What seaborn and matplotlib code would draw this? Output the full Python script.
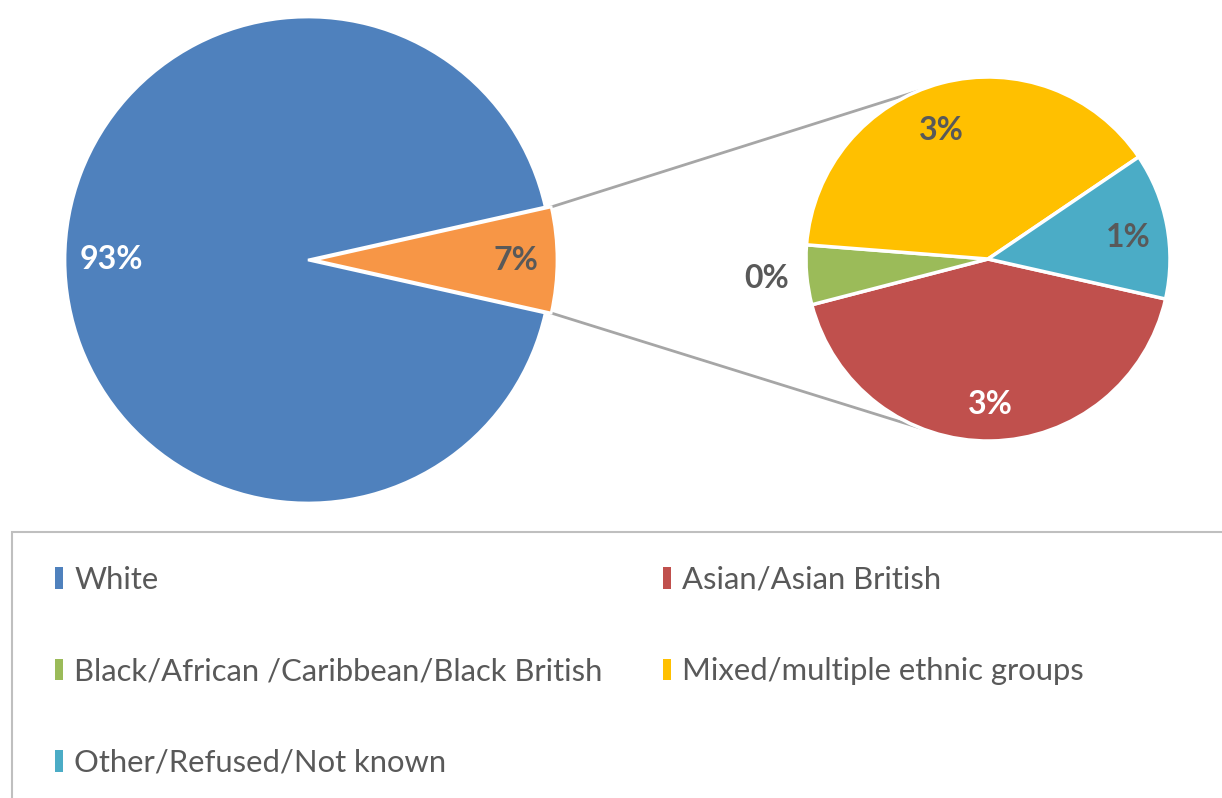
import numpy as np
import matplotlib
matplotlib.use("Agg")
import matplotlib.pyplot as plt
import seaborn as sns
from matplotlib.patches import Patch, Rectangle

# ---- data ----
categories = ["White", "Asian/Asian British", "Black/African /Caribbean/Black British",
              "Mixed/multiple ethnic groups", "Other/Refused/Not known"]
white_value = 93.0
sub_categories = ["Asian/Asian British", "Black/African /Caribbean/Black British",
                  "Mixed/multiple ethnic groups", "Other/Refused/Not known"]
sub_values = [2.97, 0.37, 2.75, 0.91]

colors = {
    "White": "#4F81BD",
    "Other7": "#F79646",
    "Asian/Asian British": "#C0504D",
    "Black/African /Caribbean/Black British": "#9BBB59",
    "Mixed/multiple ethnic groups": "#FFC000",
    "Other/Refused/Not known": "#4BACC6",
}

sns.set_theme(style="white")
plt.rcParams['font.family'] = ['Lato', 'DejaVu Sans']

W, H = 1222, 798
fig = plt.figure(figsize=(W / 100, H / 100), dpi=100)
ax = fig.add_axes([0, 0, 1, 1])

main_vals = [white_value, sum(sub_values)]
main_center = (308, H - 260)
main_r = 243
half = sum(sub_values) / 100 * 180
wedges1, _ = ax.pie(main_vals, colors=[colors["White"], colors["Other7"]],
                    startangle=-half, counterclock=False, center=main_center,
                    radius=main_r, explode=[0, 6],
                    wedgeprops=dict(edgecolor="white", linewidth=2))

sub_center = (988, H - 259)
sub_r = 182
wedges2, _ = ax.pie(sub_values, colors=[colors[c] for c in sub_categories],
                    startangle=-12.7, counterclock=False, center=sub_center,
                    radius=sub_r,
                    wedgeprops=dict(edgecolor="white", linewidth=2.5))

dark = "#595959"

def label_wedge(w, text, dist, color, r, dang=0.0):
    th = np.deg2rad((w.theta1 + w.theta2) / 2 + dang)
    cx, cy = w.center
    ax.text(cx + dist * r * np.cos(th), cy + dist * r * np.sin(th), text,
            ha="center", va="center", fontsize=23, fontweight="bold", color=color)

label_wedge(wedges1[0], f"{white_value:.0f}%", 0.81, "white", main_r)
label_wedge(wedges1[1], f"{sum(sub_values):.0f}%", 0.83, dark, main_r)

sub_label_cfg = [(0.80, "white", 0), (1.22, dark, 0), (0.75, dark, 5), (0.78, dark, -2)]
for w, v, (d, c, da) in zip(wedges2, sub_values, sub_label_cfg):
    label_wedge(w, f"{v:.0f}%", d, c, sub_r, da)

# connector lines
w_or = wedges1[1]
for a_main, a_sub in [(w_or.theta2, 112.7), (w_or.theta1, 248.4)]:
    cx, cy = w_or.center
    x0 = cx + main_r * np.cos(np.deg2rad(a_main))
    y0 = cy + main_r * np.sin(np.deg2rad(a_main))
    x1 = sub_center[0] + sub_r * np.cos(np.deg2rad(a_sub))
    y1 = sub_center[1] + sub_r * np.sin(np.deg2rad(a_sub))
    ax.plot([x0, x1], [y0, y1], color="#A6A6A6", lw=2, zorder=0)

ax.set_xlim(0, W)
ax.set_ylim(0, H)
ax.set_aspect("equal")
ax.axis("off")

# legend frame
ax.add_patch(Rectangle((12, -20), W + 20, (H - 532) + 20, fill=False,
                       edgecolor="#BFBFBF", lw=1.5, clip_on=False))

order = ["White", "Black/African /Caribbean/Black British", "Other/Refused/Not known",
         "Asian/Asian British", "Mixed/multiple ethnic groups"]
handles = [Patch(facecolor=colors[c], edgecolor="none") for c in order]
fig.legend(handles, order, loc="upper left", bbox_to_anchor=(55 / W, 1 - 566 / H),
           ncol=2, frameon=False, fontsize=22.3, handlelength=0.27, handleheight=0.7,
           handletextpad=0.35, columnspacing=1.95, labelspacing=2.05,
           borderpad=0, borderaxespad=0, labelcolor=dark)

fig.savefig("out.png", dpi=100)
